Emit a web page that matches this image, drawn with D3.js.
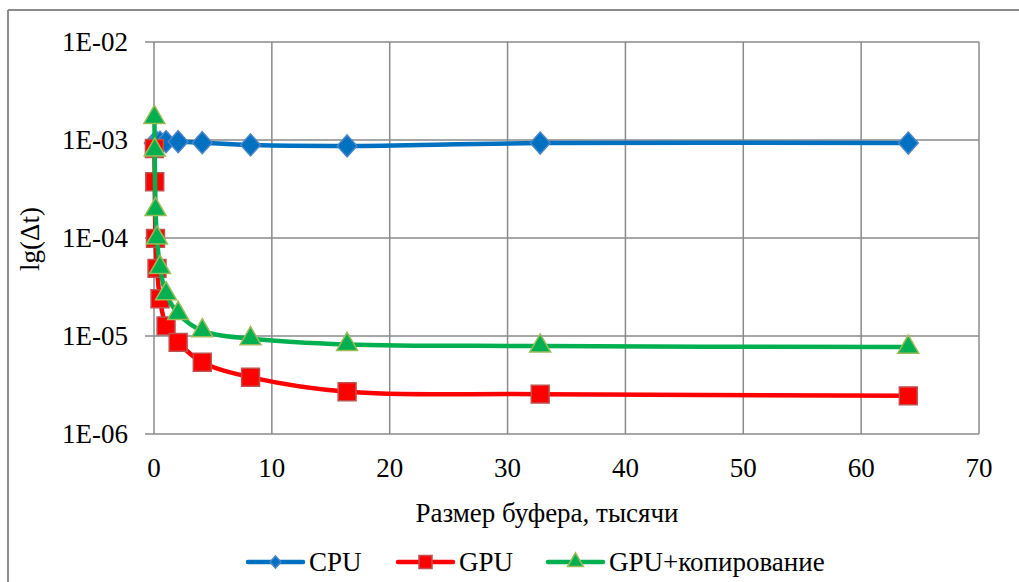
<!DOCTYPE html>
<html>
<head>
<meta charset="utf-8">
<script src="https://cdn.jsdelivr.net/npm/d3@7"></script>
<style>
  body { margin: 0; background: #fff; }
</style>
</head>
<body>
<script>
// buffer size, thousands
const bufferSizes = [0.032, 0.064, 0.128, 0.256, 0.512, 1.024, 2.048, 4.096, 8.192, 16.384, 32.768, 64];
const cpuTimes = [9.3e-4, 9.2e-4, 9.3e-4, 9.4e-4, 9.5e-4, 9.6e-4, 9.6e-4, 9.4e-4, 8.9e-4, 8.7e-4, 9.3e-4, 9.3e-4];
const gpuTimes = [8.2e-4, 3.75e-4, 9.9e-5, 4.9e-5, 2.4e-5, 1.27e-5, 8.6e-6, 5.4e-6, 3.8e-6, 2.7e-6, 2.55e-6, 2.45e-6];
const gpuCopyTimes = [1.7e-3, 7.9e-4, 1.95e-4, 1.0e-4, 5.0e-5, 2.7e-5, 1.7e-5, 1.13e-5, 9.4e-6, 8.2e-6, 7.9e-6, 7.7e-6];
const seriesNames = ["CPU", "GPU", "GPU+копирование"];
const xTicks = [0, 10, 20, 30, 40, 50, 60, 70];
const yTicks = [1e-6, 1e-5, 1e-4, 1e-3, 1e-2];

const width = 1019, height = 582;
const svg = d3.select("body").append("svg")
  .attr("width", width)
  .attr("height", height)
  .attr("font-family", "'Liberation Serif', 'DejaVu Serif', serif");

// outer chart frame (only top and left edges are in view)
svg.append("line").attr("x1", 8).attr("y1", 10).attr("x2", width).attr("y2", 10)
  .attr("stroke", "#8c8c8c").attr("stroke-width", 2);
svg.append("line").attr("x1", 8).attr("y1", 10).attr("x2", 8).attr("y2", height)
  .attr("stroke", "#8c8c8c").attr("stroke-width", 2);

const plot = { left: 154, right: 979, top: 42, bottom: 434 };

const x = d3.scaleLinear().domain([0, 70]).range([plot.left, plot.right]);
const y = d3.scaleLog().domain([1e-6, 1e-2]).range([plot.bottom, plot.top]);

const gridColor = "#8a8a8a";

// horizontal gridlines + left ticks
svg.append("g").selectAll("line")
  .data(yTicks)
  .enter().append("line")
  .attr("x1", plot.left - 9)
  .attr("x2", plot.right)
  .attr("y1", d => y(d))
  .attr("y2", d => y(d))
  .attr("stroke", gridColor)
  .attr("stroke-width", 1.5);

// vertical gridlines
svg.append("g").selectAll("line")
  .data(xTicks)
  .enter().append("line")
  .attr("x1", d => x(d))
  .attr("x2", d => x(d))
  .attr("y1", plot.top)
  .attr("y2", plot.bottom)
  .attr("stroke", gridColor)
  .attr("stroke-width", 1.5);

const fmt = d => "1E-0" + Math.round(-Math.log10(d));

svg.append("g").selectAll("text")
  .data(yTicks)
  .enter().append("text")
  .attr("x", plot.left - 26)
  .attr("y", d => y(d))
  .attr("dy", "0.35em")
  .attr("text-anchor", "end")
  .attr("font-size", 27)
  .text(fmt);

svg.append("g").selectAll("text")
  .data(xTicks)
  .enter().append("text")
  .attr("x", d => x(d))
  .attr("y", 477)
  .attr("text-anchor", "middle")
  .attr("font-size", 27)
  .text(d => d);

svg.append("text")
  .attr("x", 547)
  .attr("y", 522)
  .attr("text-anchor", "middle")
  .attr("font-size", 27)
  .text("Размер буфера, тысячи");

svg.append("text")
  .attr("transform", "translate(39,239) rotate(-90)")
  .attr("text-anchor", "middle")
  .attr("font-size", 27)
  .text("lg(Δt)");

// Excel-like diamond: a bit wider than d3's built-in one
const wideDiamond = {
  draw(ctx, size) {
    const h = Math.sqrt(size / 1.7) * 0.55;
    const w = h * 0.9;
    ctx.moveTo(0, -h);
    ctx.lineTo(w, 0);
    ctx.lineTo(0, h);
    ctx.lineTo(-w, 0);
    ctx.closePath();
  }
};

// series
const series = [
  { name: seriesNames[0], values: cpuTimes, color: "#0070C0", fill: "#0070C0", edge: "#4a86c8", shape: wideDiamond, size: 680, legendSize: 210 },
  { name: seriesNames[1], values: gpuTimes, color: "#FF0000", fill: "#FF0000", edge: "#C0504D", shape: d3.symbolSquare, size: 320, legendSize: 170 },
  { name: seriesNames[2], values: gpuCopyTimes, color: "#00B050", fill: "#00B050", edge: "#9BBB59", shape: d3.symbolTriangle, size: 190, legendSize: 110 }
];

const line = d3.line()
  .x(d => x(d[0]))
  .y(d => y(d[1]))
  .curve(d3.curveCatmullRom.alpha(0.5));

const layer = svg.append("g");
series.forEach(s => {
  const pts = bufferSizes.map((b, i) => [b, s.values[i]]);
  layer.append("path")
    .datum(pts)
    .attr("d", line)
    .attr("fill", "none")
    .attr("stroke", s.color)
    .attr("stroke-width", 4.5)
    .attr("stroke-linejoin", "round")
    .attr("stroke-linecap", "round");
  layer.append("g").selectAll("path")
    .data(pts)
    .enter().append("path")
    .attr("d", d3.symbol().type(s.shape).size(s.size))
    .attr("transform", d => `translate(${x(d[0])},${y(d[1])})`)
    .attr("fill", s.fill)
    .attr("stroke", s.edge)
    .attr("stroke-width", 1.5);
});

// legend
const legendX = [248, 398, 548];
const legend = svg.append("g");
series.forEach((s, i) => {
  const g = legend.append("g").attr("transform", `translate(${legendX[i]},562)`);
  g.append("line").attr("x1", 0).attr("x2", 55).attr("y1", 0).attr("y2", 0)
    .attr("stroke", s.color).attr("stroke-width", 4.5).attr("stroke-linecap", "round");
  g.append("path")
    .attr("d", d3.symbol().type(s.shape).size(s.legendSize))
    .attr("transform", "translate(27.5,0)")
    .attr("fill", s.fill)
    .attr("stroke", s.edge)
    .attr("stroke-width", 1.5);
  g.append("text")
    .attr("x", 61)
    .attr("y", 0)
    .attr("dy", "0.35em")
    .attr("font-size", 27)
    .text(s.name);
});
</script>
</body>
</html>
